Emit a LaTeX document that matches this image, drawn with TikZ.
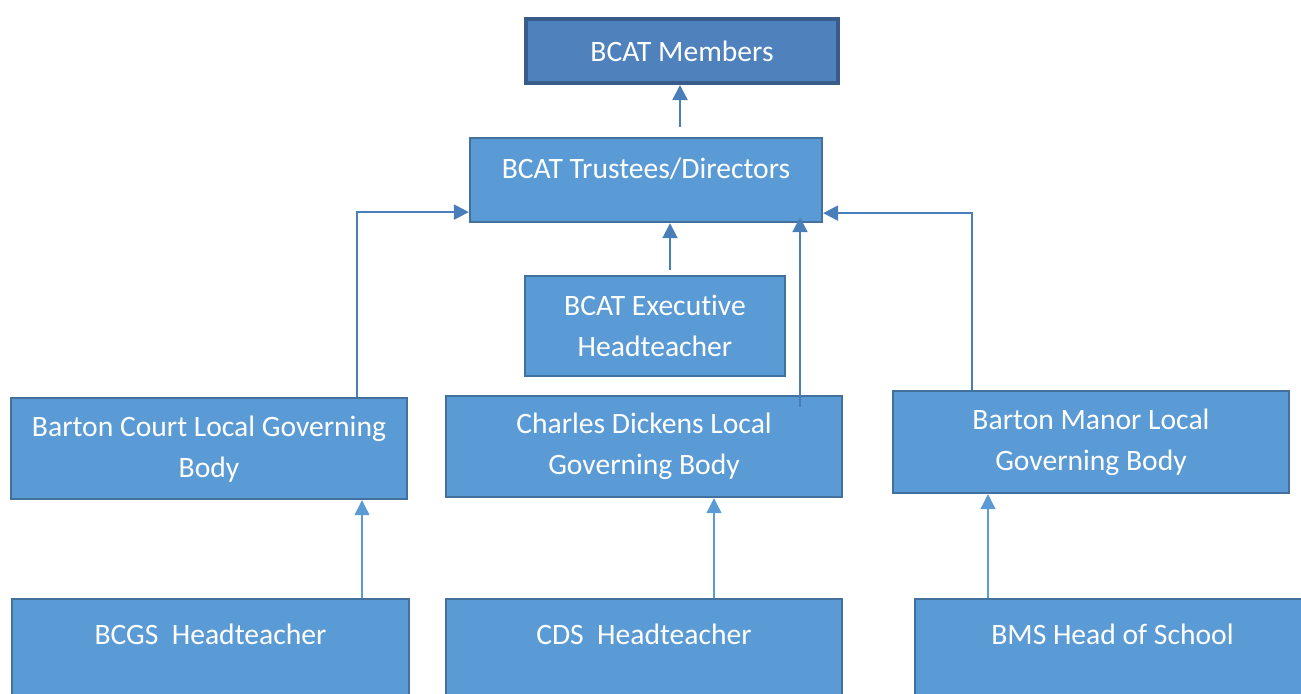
\documentclass[tikz,border=0pt]{standalone}
\usepackage{fontspec}
\setmainfont{Carlito}[Ligatures=NoCommon]
\usetikzlibrary{arrows.meta}
\definecolor{boxfill}{HTML}{5B9BD5}
\definecolor{boxline}{HTML}{41719C}
\definecolor{topfill}{HTML}{4F81BD}
\definecolor{topline}{HTML}{385D8A}
\definecolor{linkblue}{HTML}{4A7EBB}
\begin{document}
\begin{tikzpicture}[x=0.5pt,y=-0.5pt,
  govbox/.style={draw=boxline,fill=boxfill,line width=1.1pt,text=white,align=center,
    inner sep=0pt,anchor=north,font=\fontsize{14.8pt}{20.5pt}\selectfont},
  uplink/.style={draw=linkblue,line width=1pt,-{Triangle[length=7.5pt,width=7.5pt]}},
  lowlink/.style={draw=boxfill,line width=0.6pt,-{Triangle[length=7.5pt,width=7.5pt]}}]
  \useasboundingbox (0,0) rectangle (1301,693);
  \node[govbox,fill=topfill,draw=topline,line width=2pt,minimum width=156pt,minimum height=32pt] (members) at (682,17) {BCAT Members};
  \node[govbox,minimum width=176pt,minimum height=42pt,text height=20pt,text depth=22pt] (trustees) at (646,137) {BCAT Trustees/Directors};
  \node[govbox,minimum width=130pt,minimum height=50pt] (exec) at (655,275) {BCAT Executive\\Headteacher};
  \node[govbox,minimum width=198pt,minimum height=50.5pt] (bclgb) at (209,397) {Barton Court Local Governing\\Body};
  \node[govbox,minimum width=198pt,minimum height=50.5pt] (cdlgb) at (644,395) {Charles Dickens Local\\Governing Body};
  \node[govbox,minimum width=198pt,minimum height=51pt] (bmlgb) at (1091,390) {Barton Manor Local\\Governing Body};
  \node[govbox,minimum width=198.5pt,minimum height=60pt,text height=22.5pt,text depth=37.5pt] (bcgs) at (210.5,598) {BCGS\ \ Headteacher};
  \node[govbox,minimum width=198pt,minimum height=60pt,text height=22.5pt,text depth=37.5pt] (cds) at (644,598) {CDS\ \ Headteacher};
  \node[govbox,minimum width=197.5pt,minimum height=60pt,text height=22.5pt,text depth=37.5pt] (bms) at (1112.5,598) {BMS Head of School};
  % links up the tree
  \draw[uplink] ([xshift=-1pt,yshift=5pt]trustees.north -| members.south) -- ([xshift=-1pt]members.south);
  \draw[uplink] ([xshift=7.5pt,yshift=2.5pt]exec.north) -- ([xshift=7.5pt]exec.north |- trustees.south);
  \draw[uplink] ([xshift=74pt]bclgb.north) |- ([yshift=-16pt]trustees.west);
  \coordinate (cdup) at ([xshift=78pt,yshift=-6pt]cdlgb.north);
  \draw[uplink] (cdup) -- ([yshift=3pt]cdup |- trustees.south);
  \draw[uplink] ([xshift=-59.5pt]bmlgb.north) |- ([yshift=-16.5pt]trustees.east);
  % headteachers to their governing bodies
  \draw[lowlink] ([xshift=75.75pt]bcgs.north) -- ([xshift=75.75pt]bcgs.north |- bclgb.south);
  \draw[lowlink] ([xshift=35pt]cds.north) -- ([xshift=35pt]cds.north |- cdlgb.south);
  \draw[lowlink] ([xshift=-62.25pt]bms.north) -- ([xshift=-62.25pt]bms.north |- bmlgb.south);
\end{tikzpicture}
\end{document}
